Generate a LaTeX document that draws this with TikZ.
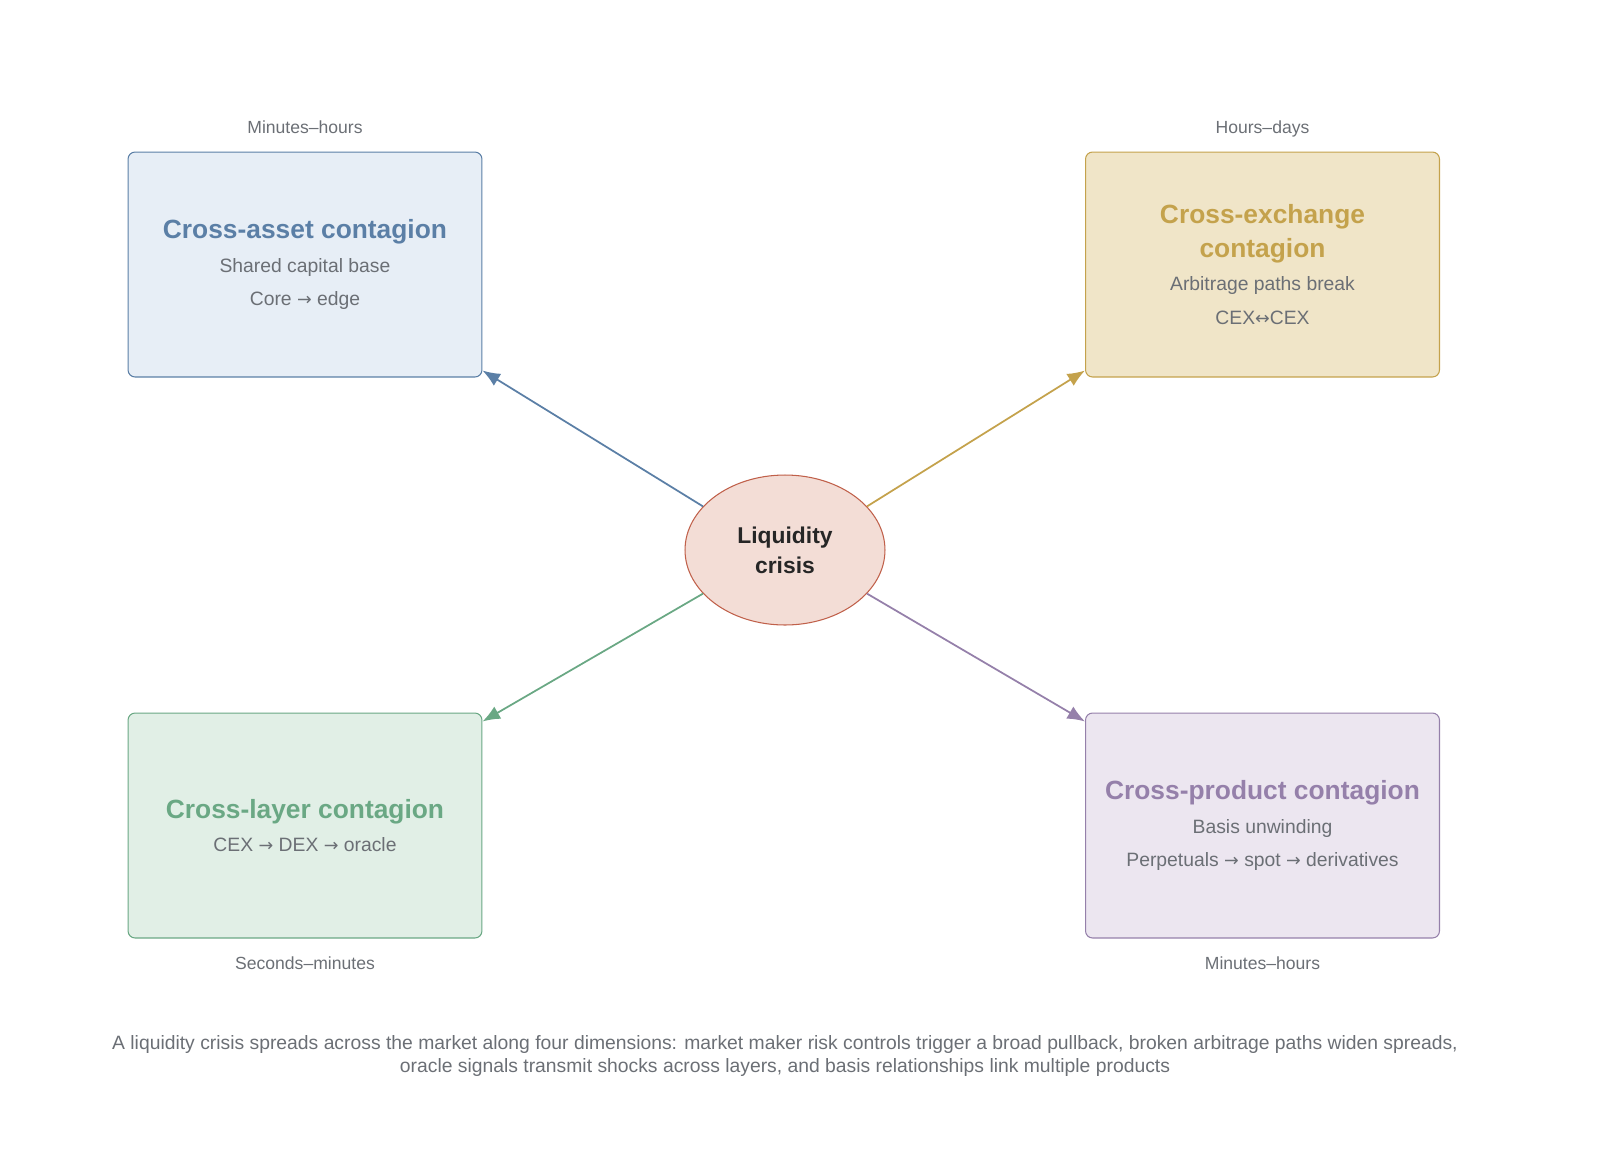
\documentclass[tikz,border=0pt]{standalone}
\usepackage{fontspec}
\setmainfont{Liberation Sans}
\newfontfamily\arrowfont{DejaVu Sans}
\usepackage{xcolor}
\usetikzlibrary{arrows.meta,positioning,shapes}
\definecolor{blueline}{HTML}{5B7FA6}
\definecolor{bluefill}{HTML}{E7EEF6}
\definecolor{goldline}{HTML}{C4A24C}
\definecolor{goldfill}{HTML}{F0E5C8}
\definecolor{greenline}{HTML}{6AA884}
\definecolor{greenfill}{HTML}{E1EFE6}
\definecolor{purpleline}{HTML}{9580AA}
\definecolor{purplefill}{HTML}{ECE6F0}
\definecolor{redline}{HTML}{C0604A}
\definecolor{redfill}{HTML}{F3DDD6}
\definecolor{graytext}{HTML}{6B6F75}
\newcommand\boxtitle[1]{{\fontsize{15}{19}\selectfont\bfseries #1}}
\newcommand\toarrow{{\arrowfont\fontsize{10}{19}\selectfont →}}
\newcommand\botharrow{{\arrowfont\fontsize{10}{19}\selectfont ↔}}
\begin{document}
\begin{tikzpicture}[x=0.02cm,y=-0.02cm]
                \tikzset{block/.style = {draw, rectangle, rounded corners=4pt, line width=0.6pt, minimum width=7.08cm, minimum height=4.5cm, align=center, text=graytext, font=\fontsize{11}{19}\selectfont},
                         timing/.style = {text=graytext, font=\fontsize{10}{12}\selectfont, anchor=base},
                         spread/.style = {-{Latex[length=10pt,width=8pt]}, line width=1pt}}
                \useasboundingbox (0,0) rectangle (1600,1154);
                
                \node [draw=redline, fill=redfill, ellipse, line width=0.6pt, minimum width=4cm, minimum height=3cm, align=center, font=\fontsize{13}{17}\selectfont\bfseries, text=black!85] (crisis) at (785,550) {Liquidity\\crisis};
                \node [block, draw=blueline, fill=bluefill] (asset) at (305,264.5) {\textcolor{blueline}{\boxtitle{Cross-asset contagion}}\\Shared capital base\\Core \toarrow{} edge};
                \node [block, draw=goldline, fill=goldfill] (exchange) at (1262.5,264.5) {\textcolor{goldline}{\boxtitle{Cross-exchange}}\\\textcolor{goldline}{\boxtitle{contagion}}\\Arbitrage paths break\\CEX\botharrow CEX};
                \node [block, draw=greenline, fill=greenfill] (layer) at (305,825.5) {\textcolor{greenline}{\boxtitle{Cross-layer contagion}}\\CEX \toarrow{} DEX \toarrow{} oracle};
                \node [block, draw=purpleline, fill=purplefill] (product) at (1262.5,825.5) {\textcolor{purpleline}{\boxtitle{Cross-product contagion}}\\Basis unwinding\\Perpetuals \toarrow{} spot \toarrow{} derivatives};
                
                \node [timing] (asset-time) at (305,133) {Minutes–hours};
                \node [timing] (exchange-time) at (1262.5,133) {Hours–days};
                \node [timing] (layer-time) at (305,969) {Seconds–minutes};
                \node [timing] (product-time) at (1262.5,969) {Minutes–hours};
                
                \draw [spread, blueline] (crisis.152) -- ([yshift=0.14cm]asset.south east);
                \draw [spread, goldline] (crisis.28) -- ([yshift=0.14cm]exchange.south west);
                \draw [spread, greenline] (crisis.208) -- ([yshift=-0.18cm]layer.north east);
                \draw [spread, purpleline] (crisis.332) -- ([yshift=-0.18cm]product.north west);
                
                \node [text=graytext, align=center, font=\fontsize{11}{13.5}\selectfont] (caption) at (785,1056) {A liquidity crisis spreads across the market along four dimensions: market maker risk controls trigger a broad pullback, broken arbitrage paths widen spreads,\\oracle signals transmit shocks across layers, and basis relationships link multiple products};
                \end{tikzpicture}
\end{document}
